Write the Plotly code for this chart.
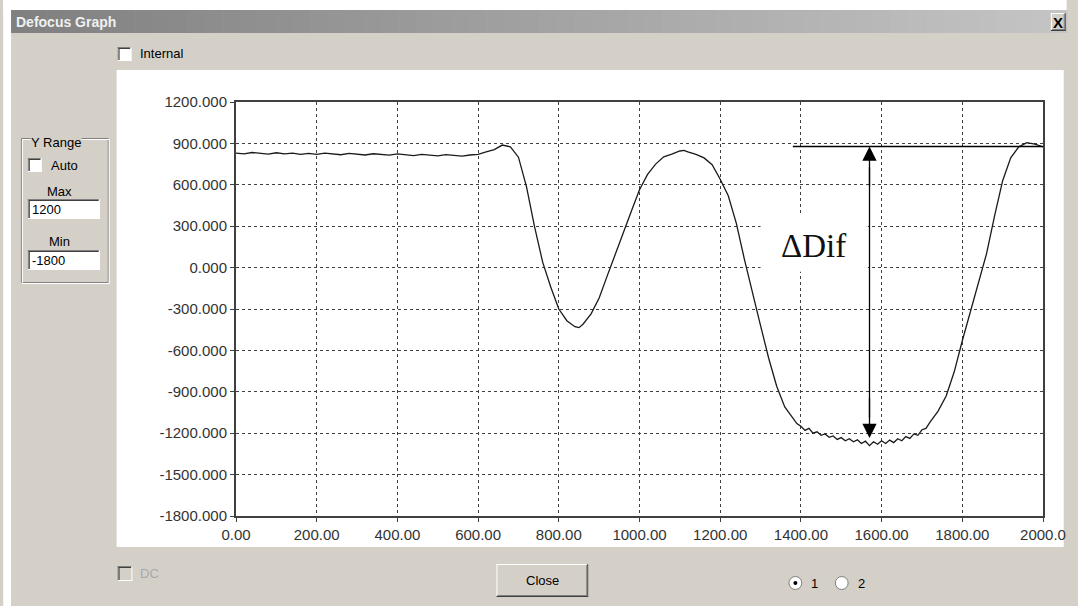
import plotly.graph_objects as go

# Defocus signal sampled along the scan (position vs. defocus value)
pos = [0, 20, 40, 60, 80, 100, 120, 140, 160, 180, 200, 220, 240, 260, 280, 300,
       320, 340, 360, 380, 400, 420, 440, 460, 480, 500, 520, 540, 560, 580, 600,
       620, 640, 660, 680, 700, 720, 740, 760, 780, 800, 820, 840, 850, 860, 880,
       900, 920, 940, 960, 980, 1000, 1020, 1040, 1060, 1080, 1100, 1110, 1120,
       1140, 1160, 1180, 1200, 1220, 1240, 1260, 1280, 1300, 1320, 1340, 1360,
       1380, 1390, 1400, 1410, 1420, 1430, 1440, 1450, 1460, 1470, 1480, 1490,
       1500, 1510, 1520, 1530, 1540, 1550, 1560, 1570, 1580, 1590, 1600, 1610,
       1620, 1630, 1640, 1650, 1660, 1670, 1680, 1690, 1700, 1710, 1720, 1740,
       1760, 1780, 1800, 1820, 1840, 1860, 1880, 1900, 1920, 1940, 1960, 1980, 2000]
defocus = [830, 824, 834, 826, 822, 832, 824, 830, 821, 828, 820, 829, 823, 818, 828, 820,
           816, 825, 818, 815, 824, 816, 812, 821, 814, 810, 819, 811, 808, 816, 820,
           838, 855, 888, 875, 800, 585, 295, 40, -140, -300, -385, -428, -435, -410, -335,
           -220, -60, 100, 250, 410, 564, 675, 750, 803, 822, 845, 850, 838,
           820, 795, 745, 640, 520, 320, 60, -190, -420, -655, -860, -1010,
           -1090, -1130, -1150, -1180, -1165, -1200, -1190, -1215, -1205, -1230, -1220, -1245,
           -1232, -1255, -1240, -1262, -1248, -1275, -1258, -1290, -1262, -1280, -1255, -1275,
           -1250, -1268, -1240, -1255, -1225, -1238, -1205, -1215, -1175, -1165, -1120, -1040,
           -930, -755, -530, -320, -120, 100, 375, 630, 795, 875, 905, 895, 875]

x_ticks = [0, 200, 400, 600, 800, 1000, 1200, 1400, 1600, 1800, 2000]
x_labels = ["0.00", "200.00", "400.00", "600.00", "800.00", "1000.00", "1200.00",
            "1400.00", "1600.00", "1800.00", "2000.0"]
y_ticks = [1200, 900, 600, 300, 0, -300, -600, -900, -1200, -1500, -1800]
y_labels = ["%.3f" % v for v in y_ticks]

# Delta marker: reference level, arrow position and bottom level
dif_top = 877
dif_bottom = -1235
dif_x = 1570
dif_line_start = 1380

FIG_W, FIG_H = 1078, 606
L, R, T, B = 236, 1054, 102, 516
BEIGE = "#d4d0c8"
UI_FONT = "Liberation Sans, Arial, sans-serif"


def px(x):
    return (x - L) / (R - L)


def py(y):
    return (B - y) / (B - T)


shapes = []
annotations = []


def rect(x0, y0, x1, y1, fill=None, line=None, lw=1, layer="below"):
    shapes.append(dict(type="rect", xref="paper", yref="paper",
                       x0=px(x0), x1=px(x1), y0=py(y1), y1=py(y0),
                       fillcolor=fill if fill else "rgba(0,0,0,0)",
                       line=dict(color=line if line else "rgba(0,0,0,0)", width=lw if line else 0),
                       layer=layer))


def hline(x0, x1, y, color, lw=1):
    shapes.append(dict(type="line", xref="paper", yref="paper",
                       x0=px(x0), x1=px(x1), y0=py(y), y1=py(y),
                       line=dict(color=color, width=lw), layer="below"))


def vline(x, y0, y1, color, lw=1):
    shapes.append(dict(type="line", xref="paper", yref="paper",
                       x0=px(x), x1=px(x), y0=py(y0), y1=py(y1),
                       line=dict(color=color, width=lw), layer="below"))


def label(x, y, text, size=13, color="#000000", anchor="left", bold=False, bg=None, family=UI_FONT):
    annotations.append(dict(xref="paper", yref="paper", x=px(x), y=py(y),
                            text=("<b>%s</b>" % text) if bold else text,
                            showarrow=False, xanchor=anchor, yanchor="middle",
                            font=dict(family=family, size=size, color=color),
                            bgcolor=bg if bg else "rgba(0,0,0,0)", borderpad=0))


def sunken(x0, y0, x1, y1, fill="#ffffff"):
    rect(x0, y0, x1, y1, fill=fill)
    hline(x0, x1, y0 + 0.5, "#808080")
    vline(x0 + 0.5, y0, y1, "#808080")
    hline(x0 + 1, x1 - 1, y0 + 1.5, "#404040")
    vline(x0 + 1.5, y0 + 1, y1 - 1, "#404040")
    hline(x0, x1, y1 - 0.5, "#ffffff")
    vline(x1 - 0.5, y0, y1, "#ffffff")


def raised(x0, y0, x1, y1):
    rect(x0, y0, x1, y1, fill=BEIGE)
    hline(x0, x1, y0 + 0.5, "#ffffff")
    vline(x0 + 0.5, y0, y1, "#ffffff")
    hline(x0, x1, y1 - 0.5, "#404040")
    vline(x1 - 0.5, y0, y1, "#404040")
    hline(x0 + 1, x1 - 1, y1 - 1.5, "#808080")
    vline(x1 - 1.5, y0 + 1, y1 - 1, "#808080")


# outer white border of the capture
rect(0, 0, FIG_W, 10, fill="#ffffff")
rect(0, 0, 8, FIG_H, fill="#ffffff")

# title bar with horizontal gradient
n_strips = 60
x_start, x_end = 8, FIG_W
for i in range(n_strips):
    t = i / (n_strips - 1)
    c0, c1 = 0x80, 0xc4
    g = int(round(c0 + (c1 - c0) * t))
    xa = x_start + (x_end - x_start) * i / n_strips
    xb = x_start + (x_end - x_start) * (i + 1) / n_strips + 0.5
    rect(xa, 10, xb, 33, fill="#%02x%02x%02x" % (g, g, g))
label(12, 22, "Defocus Graph", size=14, color="#f0f0f0", bold=True)
raised(1062, 13, 1077, 31)
label(1069.5, 22, "X", size=15, color="#000000", anchor="center", bold=True)

# white chart panel
rect(115, 70, 1075, 547, fill="#ffffff")

# "Internal" checkbox
sunken(116, 47, 130, 61)
label(138, 54, "Internal", size=13)

# Y Range group box
rect(18.5, 138.5, 106.5, 282.5, line="#808080", lw=1)
rect(19.5, 139.5, 107.5, 283.5, line="#ffffff", lw=1)
label(27, 142, "Y Range", size=13, bg=BEIGE)
sunken(25, 158, 39, 172)
label(47, 165, "Auto", size=13)
label(57, 191, "Max", size=13, anchor="center")
sunken(25, 199, 98, 219)
label(28, 209, "1200", size=13)
label(57, 242, "Min", size=13, anchor="center")
sunken(25, 250, 98, 270)
label(28, 260, "-1800", size=13)

# bottom controls
sunken(116, 566, 131, 581, fill=BEIGE)
label(138, 573, "DC", size=13, color="#a8a8a8")
raised(500, 564, 593, 597)
label(546.5, 580.5, "Close", size=13, anchor="center")

for cx, text, on in [(803, "1", True), (850, "2", False)]:
    r = 6.5
    shapes.append(dict(type="circle", xref="paper", yref="paper",
                       x0=px(cx - r), x1=px(cx + r), y0=py(583 + r), y1=py(583 - r),
                       fillcolor="#ffffff", line=dict(color="#808080", width=1), layer="below"))
    if on:
        rd = 2
        shapes.append(dict(type="circle", xref="paper", yref="paper",
                           x0=px(cx - rd), x1=px(cx + rd), y0=py(583 + rd), y1=py(583 - rd),
                           fillcolor="#000000", line=dict(width=0), layer="below"))
    label(cx + 15, 583, text, size=13)

# white backing behind the delta label (hides the grid there)
shapes.append(dict(type="rect", xref="x", yref="y", x0=1300, x1=dif_x - 4, y0=-30, y1=380,
                   fillcolor="#ffffff", line=dict(width=0), layer="between"))

# reference level and double arrow for the delta
shapes.append(dict(type="line", xref="x", yref="y", x0=dif_line_start, x1=2000,
                   y0=dif_top, y1=dif_top, line=dict(color="#000000", width=1.6), layer="above"))
shapes.append(dict(type="line", xref="x", yref="y", x0=dif_x, x1=dif_x,
                   y0=dif_bottom + 150, y1=dif_top - 150,
                   line=dict(color="#000000", width=1.3), layer="above"))
for tip, tail in ((dif_top, dif_top - 300), (dif_bottom, dif_bottom + 300)):
    annotations.append(dict(xref="x", yref="y", axref="x", ayref="y",
                            x=dif_x, y=tip, ax=dif_x, ay=tail, text="",
                            showarrow=True, arrowhead=2, arrowsize=2.2, arrowwidth=1.3,
                            arrowcolor="#000000", standoff=0))
annotations.append(dict(xref="paper", yref="paper", x=px(821), y=py(246),
                        text="\u0394Dif", showarrow=False, xanchor="center", yanchor="middle",
                        font=dict(family="Liberation Serif, Times New Roman, serif", size=33,
                                  color="#111111")))

fig = go.Figure()
fig.add_trace(go.Scatter(x=pos, y=defocus, mode="lines",
                         line=dict(color="#1a1a1a", width=1.3), hoverinfo="skip",
                         showlegend=False))

axis_common = dict(showgrid=True, gridcolor="#404040", gridwidth=1, griddash="3px,3px",
                   showline=True, linecolor="#404040", linewidth=2, mirror=True,
                   ticks="outside", ticklen=4, tickcolor="#404040", tickwidth=1,
                   zeroline=False,
                   tickfont=dict(family=UI_FONT, size=15, color="#333333"))

fig.update_layout(
    width=FIG_W, height=FIG_H,
    margin=dict(l=L, r=FIG_W - R, t=T, b=FIG_H - B, pad=0),
    paper_bgcolor=BEIGE, plot_bgcolor="#ffffff",
    showlegend=False,
    xaxis=dict(range=[0, 2000], tickmode="array", tickvals=x_ticks, ticktext=x_labels,
               **axis_common),
    yaxis=dict(range=[-1800, 1200], tickmode="array", tickvals=y_ticks, ticktext=y_labels,
               **axis_common),
    shapes=shapes,
    annotations=annotations,
)

fig.write_html("out.html")
